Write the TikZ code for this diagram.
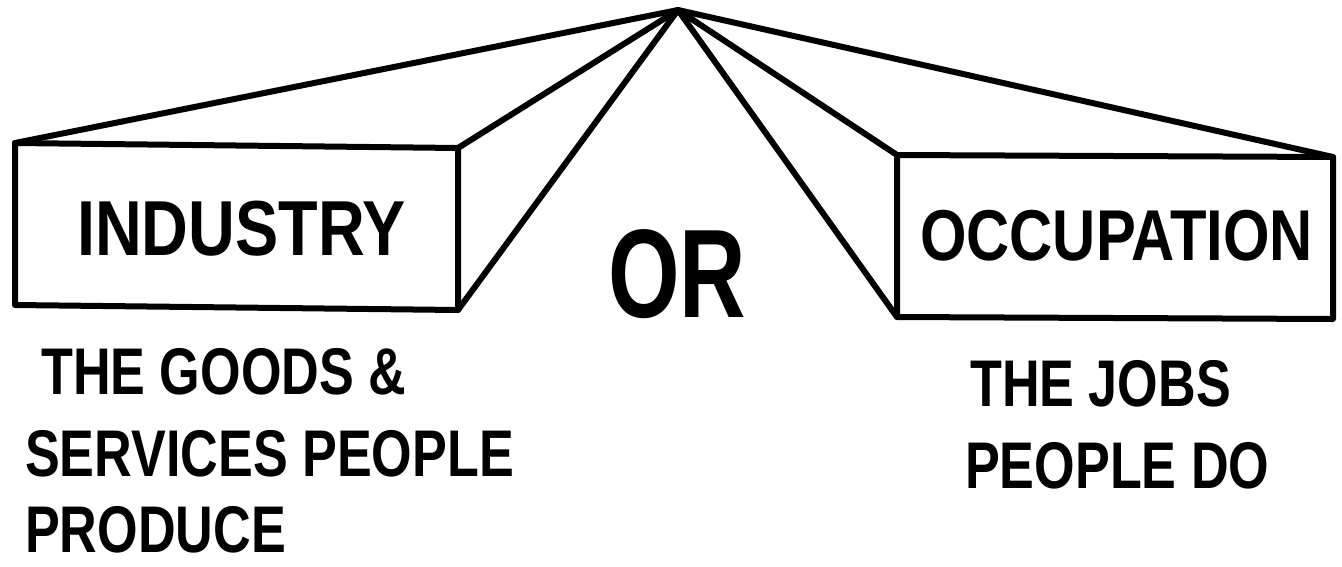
\documentclass[tikz,border=0pt]{standalone}
\usepackage{fontspec}
\setmainfont{Liberation Sans}
\usepackage{graphicx}
\newcommand{\sqz}[3]{\fontsize{#1}{#1}\selectfont\bfseries\scalebox{#2}[1]{#3}}
\begin{document}
\begin{tikzpicture}[x=1pt,y=-1pt,
  edge/.style={line width=6pt,line join=round,line cap=round},
  label/.style={inner sep=0pt,anchor=base west}]
\useasboundingbox (0,0) rectangle (1342,566);
% apex and box corners
\coordinate (apex) at (678,10);
\coordinate (lTL) at (15,143);
\coordinate (lTR) at (458,148);
\coordinate (lBR) at (458,310);
\coordinate (lBL) at (15,305);
\coordinate (rTL) at (897,155);
\coordinate (rTR) at (1333,157);
\coordinate (rBR) at (1333,319);
\coordinate (rBL) at (897,317);
% boxes
\draw[edge] (lTL) -- (lTR) -- (lBR) -- (lBL) -- cycle;
\draw[edge] (rTL) -- (rTR) -- (rBR) -- (rBL) -- cycle;
% lines from apex
\draw[edge] (apex) -- (lTL);
\draw[edge] (apex) -- (lTR);
\draw[edge] (apex) -- (lBR);
\draw[edge] (apex) -- (rTL);
\draw[edge] (apex) -- (rBL);
\draw[edge] (apex) -- (rTR);
% texts
\node[label] (ind) at (77,255) {\sqz{78}{0.83}{INDUSTRY}};
\node[label] (occ) at (920,260) {\sqz{72}{0.83}{OCCUPATION}};
\node[label] (or) at (608,317) {\sqz{126}{0.73}{OR}};
\node[label] (g1) at (41,394) {\sqz{66}{0.79}{THE GOODS \&}};
\node[label] (g2) at (25,476) {\sqz{66}{0.79}{SERVICES PEOPLE}};
\node[label] (g3) at (25,552) {\sqz{66}{0.79}{PRODUCE}};
\node[label] (j1) at (970,406) {\sqz{66}{0.79}{THE JOBS}};
\node[label] (j2) at (965,488) {\sqz{66}{0.79}{PEOPLE DO}};
\end{tikzpicture}
\end{document}
